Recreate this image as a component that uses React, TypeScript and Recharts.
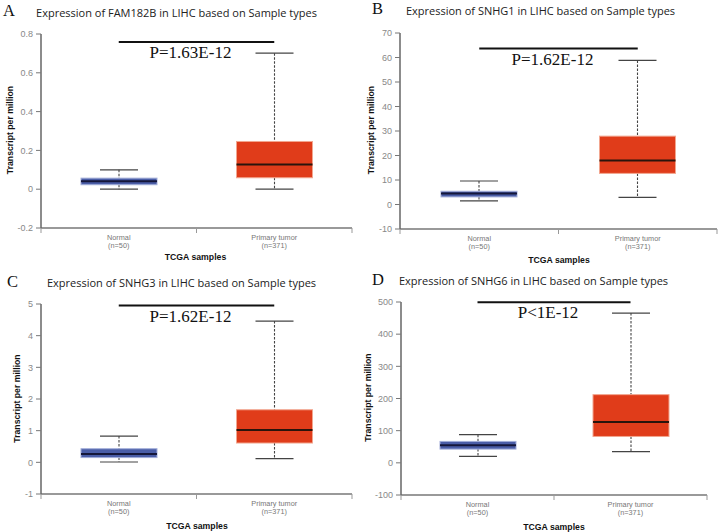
import { ComposedChart, Bar, XAxis, YAxis, ReferenceLine } from 'recharts';

const groups = ['Normal', 'Primary tumor'];
const groupN = [50, 371];

// box stats: [min, q1, median, q3, max]
const fam182bNormal = [0, 0.023, 0.041, 0.057, 0.1];
const fam182bTumor = [0, 0.059, 0.127, 0.246, 0.701];
const snhg1Normal = [1.5, 3.1, 4.5, 5.4, 9.6];
const snhg1Tumor = [2.9, 12.7, 18.0, 27.9, 58.8];
const snhg3Normal = [0.01, 0.15, 0.26, 0.43, 0.83];
const snhg3Tumor = [0.12, 0.61, 1.02, 1.66, 4.46];
const snhg6Normal = [19.8, 42.7, 55, 66.6, 87.5];
const snhg6Tumor = [35, 82, 127, 212, 465.6];

const fam182bTicks = [-0.2, 0, 0.2, 0.4, 0.6, 0.8];
const snhg1Ticks = [-10, 0, 10, 20, 30, 40, 50, 60, 70];
const snhg3Ticks = [-1, 0, 1, 2, 3, 4, 5];
const snhg6Ticks = [-100, 0, 100, 200, 300, 400, 500];

const pTexts = ['P=1.63E-12', 'P=1.62E-12', 'P=1.62E-12', 'P<1E-12'];
const pLineY = [0.759, 63.7, 4.95, 499];

const BOX_STYLE = [
  { fill: '#4a5da7', stroke: '#a3aed9', median: '#15173a' },
  { fill: '#e03c1a', stroke: '#f2a68f', median: '#2a140c' },
];

const SANS = '"Liberation Sans", Arial, sans-serif';

const panels = [
  { letter: 'A', gene: 'FAM182B', normal: fam182bNormal, tumor: fam182bTumor, ticks: fam182bTicks,
    left: 0, top: 0, h: 266, mTop: 34, mRight: 8, yW: 41, xH: 38,
    titleX: 176.5, titleY: 16.7, letterX: 3, letterY: 15.5, yLabX: 12.5, yLabY: 130, xLabX: 195.5, xLabY: 260 },
  { letter: 'B', gene: 'SNHG1', normal: snhg1Normal, tumor: snhg1Tumor, ticks: snhg1Ticks,
    left: 360, top: 0, h: 266, mTop: 33, mRight: 3, yW: 40, xH: 37,
    titleX: 180.5, titleY: 15, letterX: 12, letterY: 13.5, yLabX: 13.5, yLabY: 130, xLabX: 199, xLabY: 263 },
  { letter: 'C', gene: 'SNHG3', normal: snhg3Normal, tumor: snhg3Tumor, ticks: snhg3Ticks,
    left: 0, top: 266, h: 266, mTop: 38, mRight: 8, yW: 41, xH: 38,
    titleX: 181.5, titleY: 21, letterX: 7, letterY: 21, yLabX: 19.5, yLabY: 132.5, xLabX: 197, xLabY: 262.5 },
  { letter: 'D', gene: 'SNHG6', normal: snhg6Normal, tumor: snhg6Tumor, ticks: snhg6Ticks,
    left: 360, top: 266, h: 266, mTop: 36, mRight: 13, yW: 41, xH: 37,
    titleX: 173.5, titleY: 19, letterX: 12, letterY: 18.7, yLabX: 10.5, yLabY: 131.5, xLabX: 194, xLabY: 263.5 },
];

function BoxShape(props: any) {
  const { x, y, width, height, payload } = props;
  const [min, q1, med, q3, max] = payload.stats;
  const py = (v: number) => y + ((max - v) / (max - min)) * height;
  const cx = x + width / 2;
  const cap = width / 4;
  const s = BOX_STYLE[payload.kind];
  return (
    <g>
      <line x1={cx} x2={cx} y1={py(max)} y2={py(q3)} stroke="#444" strokeWidth={1.1} strokeDasharray="2.5 1.5" />
      <line x1={cx} x2={cx} y1={py(q1)} y2={py(min)} stroke="#444" strokeWidth={1.1} strokeDasharray="2.5 1.5" />
      <line x1={cx - cap} x2={cx + cap} y1={py(max)} y2={py(max)} stroke="#444" strokeWidth={1.2} />
      <line x1={cx - cap} x2={cx + cap} y1={py(min)} y2={py(min)} stroke="#444" strokeWidth={1.2} />
      <rect x={x} y={py(q3)} width={width} height={py(q1) - py(q3)} fill={s.fill} stroke={s.stroke} strokeWidth={1} />
      <line x1={x} x2={x + width} y1={py(med)} y2={py(med)} stroke={s.median} strokeWidth={2} />
    </g>
  );
}

function makeTick(half: number) {
  return function GroupTick(props: any) {
    const { x, y, payload, index } = props;
    return (
      <g>
        <line x1={x - half} x2={x - half} y1={y} y2={y + 5} stroke="#999" strokeWidth={1} />
        {index === groups.length - 1 && (
          <line x1={x + half} x2={x + half} y1={y} y2={y + 5} stroke="#999" strokeWidth={1} />
        )}
        <text x={x} y={y + 12} textAnchor="middle" fontSize={7.3} fontFamily={SANS} fill="#777">{payload.value}</text>
        <text x={x} y={y + 19.5} textAnchor="middle" fontSize={7.3} fontFamily={SANS} fill="#777">(n={groupN[index]})</text>
      </g>
    );
  };
}

function Panel({ cfg, idx }: { cfg: typeof panels[number]; idx: number }) {
  const data = groups.map((g, i) => {
    const stats = i === 0 ? cfg.normal : cfg.tumor;
    return { name: g, kind: i, stats, range: [stats[0], stats[4]] };
  });
  const half = (360 - cfg.yW - cfg.mRight) / 4;
  const domain = [cfg.ticks[0], cfg.ticks[cfg.ticks.length - 1]];
  return (
    <div style={{ position: 'absolute', left: cfg.left, top: cfg.top, width: 360, height: cfg.h }}>
      <div style={{ position: 'absolute', left: 0, top: 0 }}>
        <ComposedChart width={360} height={cfg.h} data={data}
          margin={{ top: cfg.mTop, right: cfg.mRight, bottom: 0, left: 0 }}>
          <XAxis dataKey="name" type="category" interval={0} height={cfg.xH}
            axisLine={{ stroke: '#777', strokeWidth: 1.5 }} tickLine={false} tickSize={0} tickMargin={0}
            tick={makeTick(half)} />
          <YAxis type="number" domain={domain} ticks={cfg.ticks} interval={0} width={cfg.yW}
            allowDataOverflow
            axisLine={{ stroke: '#666', strokeWidth: 1.5 }} tickLine={{ stroke: '#777' }}
            tickSize={5} tickMargin={3}
            tick={{ fill: '#888', fontSize: 9, fontFamily: SANS }} />
          <Bar dataKey="range" barSize={76} shape={BoxShape} isAnimationActive={false} />
          <ReferenceLine
            segment={[{ x: groups[0], y: pLineY[idx] }, { x: groups[1], y: pLineY[idx] }]}
            stroke="#111" strokeWidth={2} ifOverflow="visible"
            label={{ value: pTexts[idx], position: 'bottom', offset: 4, fill: '#111', fontSize: 17,
              fontFamily: '"Liberation Serif", "Times New Roman", serif', dx: -6 }} />
        </ComposedChart>
      </div>
      <svg width={360} height={cfg.h} style={{ position: 'absolute', left: 0, top: 0, pointerEvents: 'none' }}>
        <text x={cfg.letterX} y={cfg.letterY} fontSize={16.5} fontFamily='"Liberation Serif", serif' fill="#111">{cfg.letter}</text>
        <text x={cfg.titleX} y={cfg.titleY} textAnchor="middle" fontSize={11} fontFamily='"Open Sans", sans-serif' fill="#222">
          Expression of {cfg.gene} in LIHC based on Sample types
        </text>
        <text x={cfg.yLabX} y={cfg.yLabY} textAnchor="middle" fontSize={8.7} fontWeight="bold" fontFamily={SANS} fill="#111"
          transform={`rotate(-90 ${cfg.yLabX} ${cfg.yLabY})`}>Transcript per million</text>
        <text x={cfg.xLabX} y={cfg.xLabY} textAnchor="middle" fontSize={8.7} fontWeight="bold" fontFamily={SANS} fill="#111">TCGA samples</text>
      </svg>
    </div>
  );
}

export default function App() {
  return (
    <div style={{ position: 'absolute', left: 0, top: 0, width: 720, height: 532, background: '#fff' }}>
      {panels.map((p, i) => <Panel key={p.letter} cfg={p} idx={i} />)}
    </div>
  );
}
